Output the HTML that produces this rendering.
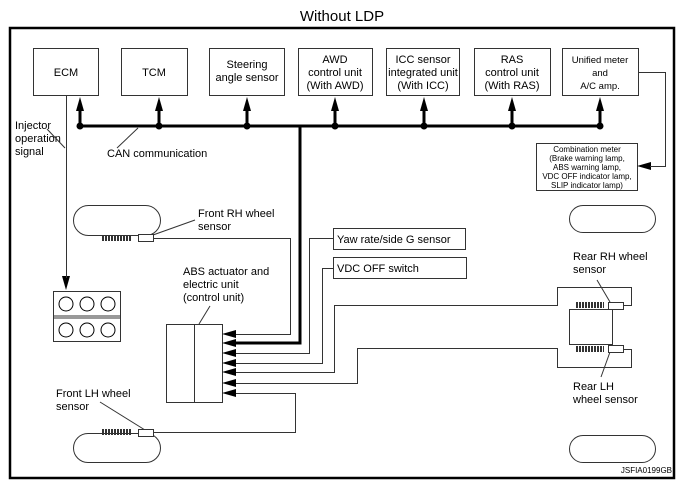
<!DOCTYPE html>
<html><head><meta charset="utf-8"><style>
body{margin:0;background:#fff;}
svg{display:block;font-family:"Liberation Sans",sans-serif;}
</style></head><body>
<svg width="686" height="489" viewBox="0 0 686 489" xmlns="http://www.w3.org/2000/svg">
<defs>
<pattern id="tw" width="3" height="6" patternUnits="userSpaceOnUse"><rect width="2" height="6" fill="#333"/></pattern>
</defs>
<rect width="686" height="489" fill="#fff"/>
<text x="342" y="21" font-size="15" text-anchor="middle">Without LDP</text>
<rect x="10" y="28" width="664" height="450" fill="none" stroke="#000" stroke-width="2.5"/>
<g fill="#fff" stroke="#333" stroke-width="1">
<rect x="33.5" y="48.5" width="65" height="47"/>
<rect x="121.5" y="48.5" width="66" height="47"/>
<rect x="209.5" y="48.5" width="75" height="47"/>
<rect x="298.5" y="48.5" width="74" height="47"/>
<rect x="386.5" y="48.5" width="73" height="47"/>
<rect x="474.5" y="48.5" width="76" height="47"/>
<rect x="562.5" y="48.5" width="76" height="47"/>
<rect x="536.5" y="143.5" width="101" height="47"/>
<rect x="333.5" y="228.5" width="132" height="21"/>
<rect x="333.5" y="257.5" width="133" height="21"/>
<rect x="166.5" y="324.5" width="56" height="78"/>
<rect x="53.5" y="291.5" width="67" height="50"/>
<rect x="569.5" y="309.5" width="43" height="35"/>
</g>
<g font-size="11" text-anchor="middle" fill="#000">
<text x="66" y="76">ECM</text>
<text x="154" y="76">TCM</text>
<text x="247" y="68">Steering</text><text x="247" y="81">angle sensor</text>
<text x="335" y="63">AWD</text><text x="335" y="76">control unit</text><text x="335" y="89">(With AWD)</text>
<text x="423" y="63">ICC sensor</text><text x="423" y="76">integrated unit</text><text x="423" y="89">(With ICC)</text>
<text x="512" y="63">RAS</text><text x="512" y="76">control unit</text><text x="512" y="89">(With RAS)</text>
<g font-size="9.5"><text x="600" y="63">Unified meter</text><text x="600" y="76">and</text><text x="600" y="89">A/C amp.</text></g>
<g font-size="8"><text x="587" y="152">Combination meter</text><text x="587" y="161">(Brake warning lamp,</text><text x="587" y="170">ABS warning lamp,</text><text x="587" y="179">VDC OFF indicator lamp,</text><text x="587" y="188">SLIP indicator lamp)</text></g>
</g>
<g font-size="11" fill="#000">
<text x="337" y="243">Yaw rate/side G sensor</text>
<text x="337" y="272">VDC OFF switch</text>
<text x="15" y="129">Injector</text><text x="15" y="142">operation</text><text x="15" y="155">signal</text>
<text x="107" y="157">CAN communication</text>
<text x="198" y="217">Front RH wheel</text><text x="198" y="230">sensor</text>
<text x="183" y="275">ABS actuator and</text><text x="183" y="288">electric unit</text><text x="183" y="301">(control unit)</text>
<text x="56" y="397">Front LH wheel</text><text x="56" y="410">sensor</text>
<text x="573" y="260">Rear RH wheel</text><text x="573" y="273">sensor</text>
<text x="573" y="390">Rear LH</text><text x="573" y="403">wheel sensor</text>
<text x="672" y="473" font-size="8" text-anchor="end">JSFIA0199GB</text>
</g>
<!-- CAN bus -->
<g stroke="#000" stroke-width="3" fill="none">
<line x1="80" y1="126" x2="600" y2="126"/>
<polyline points="300,126 300,343 236,343"/>
<line x1="80" y1="126" x2="80" y2="110"/><line x1="159" y1="126" x2="159" y2="110"/>
<line x1="247" y1="126" x2="247" y2="110"/><line x1="335" y1="126" x2="335" y2="110"/>
<line x1="424" y1="126" x2="424" y2="110"/><line x1="512" y1="126" x2="512" y2="110"/>
<line x1="600" y1="126" x2="600" y2="110"/>
</g>
<g fill="#000">
<circle cx="80" cy="126" r="3.5"/><circle cx="159" cy="126" r="3.5"/><circle cx="247" cy="126" r="3.5"/><circle cx="335" cy="126" r="3.5"/><circle cx="424" cy="126" r="3.5"/><circle cx="512" cy="126" r="3.5"/><circle cx="600" cy="126" r="3.5"/>
<polygon points="80,97 76,111 84,111"/><polygon points="159,97 155,111 163,111"/><polygon points="247,97 243,111 251,111"/><polygon points="335,97 331,111 339,111"/><polygon points="424,97 420,111 428,111"/><polygon points="512,97 508,111 516,111"/><polygon points="600,97 596,111 604,111"/>
<polygon points="637,166 651,162 651,170"/>
<polygon points="66,290 62,276 70,276"/>
</g>
<g stroke="#333" stroke-width="1" fill="none">
<polyline points="638.5,72.5 665.5,72.5 665.5,166.5 650,166.5"/>
<line x1="66.5" y1="96" x2="66.5" y2="278"/>
<line x1="47" y1="129" x2="65" y2="148"/>
<line x1="117" y1="148" x2="138" y2="128"/>
<line x1="195" y1="220" x2="153" y2="235"/>
<line x1="210" y1="306" x2="199" y2="324"/>
<line x1="100" y1="402" x2="145" y2="430"/>
<line x1="597" y1="280" x2="610" y2="302"/>
<line x1="610" y1="352" x2="601" y2="377"/>
<line x1="194.5" y1="324" x2="194.5" y2="402"/>
<line x1="53" y1="316" x2="120" y2="316"/><line x1="53" y1="318" x2="120" y2="318"/>
<polyline points="153,238.5 290.5,238.5 290.5,334.5 234,334.5"/>
<polyline points="333,238.5 309.5,238.5 309.5,353.5 234,353.5"/>
<polyline points="333,268.5 322.5,268.5 322.5,363.5 234,363.5"/>
<polyline points="234,372.5 334.5,372.5 334.5,305.5 557.5,305.5 557.5,287.5 631.5,287.5 631.5,305.5 623,305.5"/>
<polyline points="234,383.5 357.5,383.5 357.5,348.5 557.5,348.5 557.5,367.5 631.5,367.5 631.5,349.5 623,349.5"/>
<polyline points="234,393.5 295.5,393.5 295.5,432.5 153,432.5"/>
<rect x="73.5" y="205.5" width="87" height="30" rx="15"/>
<rect x="73.5" y="433.5" width="87" height="29" rx="14.5"/>
<rect x="569.5" y="205.5" width="86" height="27" rx="13.5"/>
<rect x="569.5" y="435.5" width="86" height="27" rx="13.5"/>
<rect x="138.5" y="234.5" width="15" height="7" fill="#fff"/>
<rect x="138.5" y="429.5" width="15" height="7" fill="#fff"/>
<rect x="608.5" y="302.5" width="15" height="7" fill="#fff"/>
<rect x="608.5" y="345.5" width="15" height="7" fill="#fff"/>
</g>
<g fill="#000">
<circle cx="66" cy="304" r="7" fill="none" stroke="#000"/><circle cx="87" cy="304" r="7" fill="none" stroke="#000"/><circle cx="108" cy="304" r="7" fill="none" stroke="#000"/>
<circle cx="66" cy="330" r="7" fill="none" stroke="#000"/><circle cx="87" cy="330" r="7" fill="none" stroke="#000"/><circle cx="108" cy="330" r="7" fill="none" stroke="#000"/>
<polygon points="222,334 236,330 236,338"/><polygon points="222,343 236,339 236,347"/><polygon points="222,353 236,349 236,357"/><polygon points="222,363 236,359 236,367"/><polygon points="222,372 236,368 236,376"/><polygon points="222,383 236,379 236,387"/><polygon points="222,393 236,389 236,397"/>
</g>
<rect x="101" y="235" width="30" height="6" fill="url(#tw)"/>
<rect x="101" y="429" width="30" height="6" fill="url(#tw)"/>
<rect x="575" y="302" width="29" height="6" fill="url(#tw)"/>
<rect x="575" y="346" width="29" height="6" fill="url(#tw)"/>
</svg>
</body></html>
